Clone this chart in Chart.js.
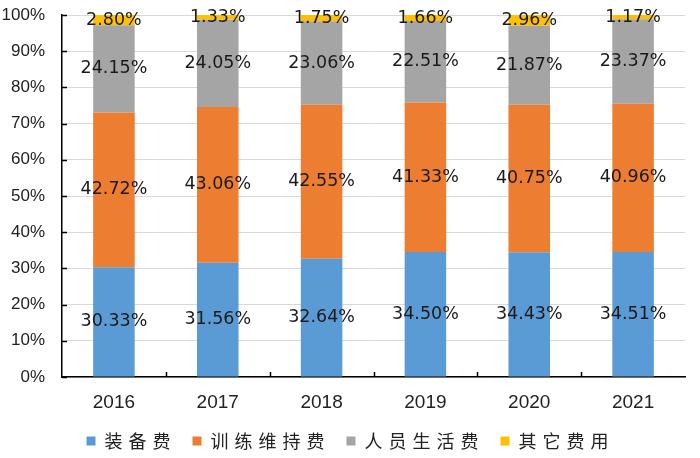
<!DOCTYPE html>
<html>
<head>
<meta charset="utf-8">
<script src="https://cdn.jsdelivr.net/npm/chart.js@4"></script>
<style>
  html, body { margin: 0; padding: 0; background: #fff; }
  #wrap { width: 700px; height: 458px; }
</style>
</head>
<body>
<div id="wrap"><canvas id="chart" width="700" height="458"></canvas></div>
<script>
// Chart data
const years = ['2016', '2017', '2018', '2019', '2020', '2021'];
const seriesNames = ['装备费', '训练维持费', '人员生活费', '其它费用'];
const equipment = [30.33, 31.56, 32.64, 34.50, 34.43, 34.51];
const training = [42.72, 43.06, 42.55, 41.33, 40.75, 40.96];
const personnel = [24.15, 24.05, 23.06, 22.51, 21.87, 23.37];
const other = [2.80, 1.33, 1.75, 1.66, 2.96, 1.17];
const yTicks = [0, 10, 20, 30, 40, 50, 60, 70, 80, 90, 100];

const colors = ['#5b9bd5', '#ed7d31', '#a5a5a5', '#ffc000'];

// Draw value labels in the middle of each segment
const segmentLabels = {
    id: 'segmentLabels',
    afterDatasetsDraw(chart) {
        const ctx = chart.ctx;
        ctx.save();
        ctx.letterSpacing = '0px';
        ctx.font = '17.5px "DejaVu Sans", sans-serif';
        ctx.fillStyle = '#1a1a1a';
        ctx.textAlign = 'center';
        ctx.textBaseline = 'middle';
        chart.data.datasets.forEach((ds, i) => {
            const meta = chart.getDatasetMeta(i);
            meta.data.forEach((bar, j) => {
                const mid = (bar.y + bar.base) / 2;
                ctx.fillText(ds.data[j].toFixed(2) + '%', bar.x, mid);
            });
        });
        ctx.restore();
    }
};

// Small inward tick marks on both axes
const innerTicks = {
    id: 'innerTicks',
    afterDraw(chart) {
        const ctx = chart.ctx;
        const xs = chart.scales.x, ys = chart.scales.y;
        const area = chart.chartArea;
        ctx.save();
        ctx.strokeStyle = '#000';
        ctx.lineWidth = 1.5;
        ctx.beginPath();
        yTicks.forEach(v => {
            const py = Math.round(ys.getPixelForValue(v)) + 0.5;
            ctx.moveTo(area.left, py);
            ctx.lineTo(area.left + 5, py);
        });
        for (let i = 1; i < years.length; i++) {
            const px = Math.round((xs.getPixelForValue(i - 1) + xs.getPixelForValue(i)) / 2) + 0.5;
            ctx.moveTo(px, area.bottom);
            ctx.lineTo(px, area.bottom - 5);
        }
        ctx.stroke();
        ctx.restore();
    }
};

// Wider letter spacing for legend text, and nudge it a little
const legendSpacing = {
    id: 'legendSpacing',
    beforeLayout(chart) {
        const lg = chart.legend;
        if (!lg || lg._spaced) return;
        lg._spaced = true;
        ['fit', 'draw'].forEach(fn => {
            const orig = lg[fn].bind(lg);
            lg[fn] = function(...args) {
                const c = lg.ctx;
                c.save();
                if (fn === 'draw') c.translate(8, 2);
                c.letterSpacing = '6px';
                const r = orig(...args);
                c.restore();
                c.letterSpacing = '0px';
                return r;
            };
        });
    }
};

const ctx = document.getElementById('chart').getContext('2d');
new Chart(ctx, {
    type: 'bar',
    data: {
        labels: years,
        datasets: [equipment, training, personnel, other].map((d, i) => ({
            label: seriesNames[i],
            data: d,
            backgroundColor: colors[i],
            barPercentage: 0.4,
            categoryPercentage: 1
        }))
    },
    options: {
        responsive: false,
        animation: false,
        layout: { padding: { left: 0, right: 15, top: 15, bottom: 0 } },
        plugins: {
            legend: {
                position: 'bottom',
                labels: {
                    boxWidth: 9,
                    boxHeight: 9,
                    padding: 16,
                    color: '#222',
                    font: { family: '"Noto Sans CJK SC", sans-serif', size: 18 }
                }
            },
            tooltip: { enabled: false }
        },
        scales: {
            x: {
                stacked: true,
                afterFit: s => { s.height = 37; },
                grid: { display: false, drawTicks: false },
                border: { display: true, color: '#000', width: 1.5 },
                ticks: {
                    color: '#222',
                    padding: 14,
                    font: { family: '"Liberation Sans", sans-serif', size: 19 }
                }
            },
            y: {
                stacked: true,
                min: 0,
                max: 100,
                afterBuildTicks: axis => { axis.ticks = yTicks.map(v => ({ value: v })); },
                afterFit: s => {
                    s.width = 62;
                    s.paddingTop = 0;
                    s.paddingBottom = 0;
                },
                grid: { color: '#d9d9d9', drawTicks: false },
                border: { display: true, color: '#000', width: 1.5 },
                ticks: {
                    color: '#222',
                    padding: 17,
                    font: { family: '"Liberation Sans", sans-serif', size: 17 },
                    callback: v => v + '%'
                }
            }
        }
    },
    plugins: [segmentLabels, innerTicks, legendSpacing]
});
</script>
</body>
</html>
